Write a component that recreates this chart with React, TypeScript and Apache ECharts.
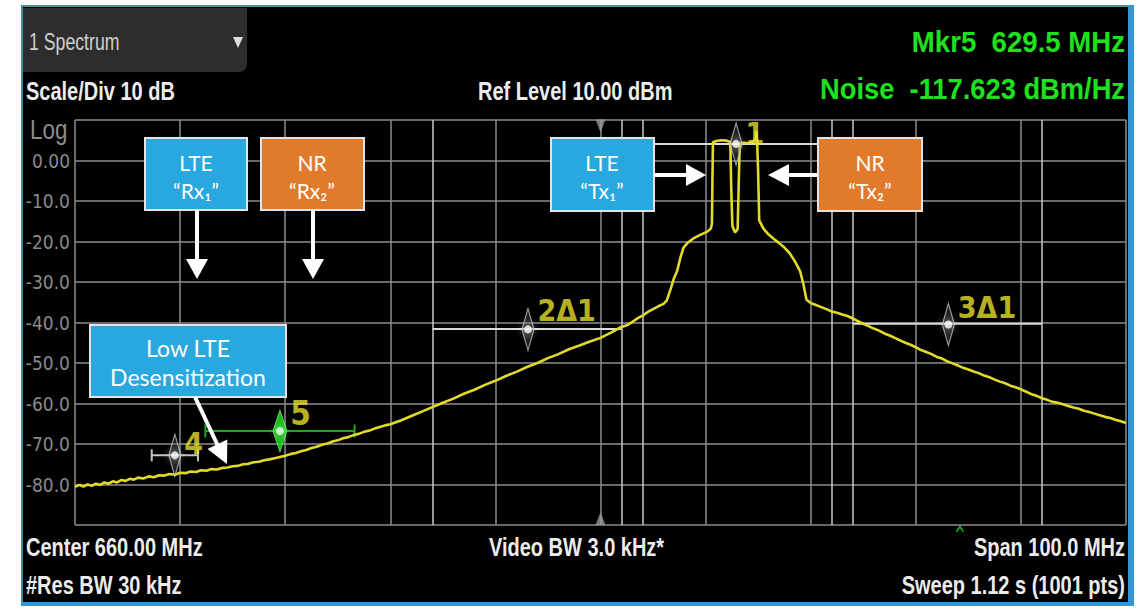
import { useEffect, useRef } from "react";
import * as echarts from "echarts";

// ---------- data ----------
// trace: [frequency MHz, level dBm]
const trace: [number, number][] = [
  [610.0, -80.6], [610.4, -80.1], [610.8, -80.5], [611.2, -80.0], [611.6, -80.3], [612.0, -79.8],
  [612.4, -80.1], [612.8, -79.5], [613.2, -79.8], [613.6, -79.2], [614.0, -79.5], [614.4, -78.9],
  [614.8, -79.1], [615.2, -78.6], [615.6, -78.8], [616.0, -78.3], [616.5, -78.5], [617.0, -78.0],
  [617.5, -78.2], [618.0, -77.7], [618.5, -77.8], [619.0, -77.4], [619.5, -77.6], [620.0, -77.1],
  [620.5, -77.2], [621.0, -76.8], [621.5, -76.9], [622.0, -76.5], [622.5, -76.6], [623.0, -76.2],
  [623.5, -76.3], [624.0, -75.9], [624.5, -75.8], [625.0, -75.5], [625.5, -75.4], [626.0, -75.0],
  [626.5, -74.9], [627.0, -74.5], [627.5, -74.4], [628.0, -74.0], [628.5, -73.8], [629.0, -73.5],
  [629.5, -73.2], [630.0, -72.9], [630.5, -72.5], [631.0, -72.2], [631.5, -71.8], [632.0, -71.5],
  [632.5, -71.0], [633.0, -70.7], [633.5, -70.2], [634.0, -69.9], [634.5, -69.4], [635.0, -69.1],
  [635.5, -68.6], [636.0, -68.3], [636.5, -67.8], [637.0, -67.5], [637.5, -67.0], [638.0, -66.7],
  [638.5, -66.2], [639.0, -65.8], [639.5, -65.4], [640.0, -65.1], [641.0, -64.2], [642.0, -63.1],
  [643.0, -62.0], [644.0, -60.9], [645.0, -59.8], [646.0, -58.8], [647.0, -57.6], [648.0, -56.6],
  [649.0, -55.4], [650.0, -54.4], [651.0, -53.2], [652.0, -52.2], [653.0, -51.0], [654.0, -50.0],
  [655.0, -48.8], [656.0, -47.8], [657.0, -46.6], [658.0, -45.7], [659.0, -44.7], [660.0, -43.8],
  [661.0, -42.5], [661.9, -41.2], [662.5, -40.7], [663.0, -39.9], [663.5, -39.0], [664.0, -38.3],
  [664.5, -37.4], [665.0, -36.7], [665.5, -36.0], [666.0, -35.4], [666.3, -34.6], [666.7, -31.5],
  [667.0, -29.0], [667.3, -27.2], [667.6, -24.0], [667.9, -21.5], [668.3, -20.3], [668.8, -19.3],
  [669.3, -18.6], [669.8, -18.0], [670.2, -17.5], [670.5, -16.8], [670.6, -15.6], [670.65, -5.0],
  [670.7, 4.5], [671.0, 4.8], [671.5, 5.0], [672.0, 4.9], [672.35, 4.6], [672.45, -8.0],
  [672.55, -16.2], [672.8, -17.8], [673.05, -16.9], [673.15, -6.0], [673.25, 4.2], [673.6, 4.4],
  [674.0, 4.3], [674.4, 4.5], [674.75, 5.2], [674.82, 7.3], [674.9, 4.9], [675.0, -3.0],
  [675.1, -14.8], [675.5, -16.8], [676.0, -18.3], [676.5, -19.4], [677.0, -20.4], [677.5, -21.5],
  [678.0, -22.9], [678.5, -24.9], [679.0, -27.4], [679.3, -30.5], [679.6, -34.4], [680.0, -35.2],
  [680.5, -35.7], [681.0, -36.2], [681.5, -36.7], [682.0, -37.3], [682.5, -37.6], [683.0, -38.0],
  [683.5, -38.4], [684.0, -39.0], [684.5, -39.7], [685.0, -40.3], [685.5, -40.9], [686.0, -41.5],
  [686.5, -42.0], [687.0, -42.7], [687.5, -43.2], [688.0, -43.8], [688.5, -44.4], [689.0, -45.0],
  [689.5, -45.5], [690.0, -46.1], [690.5, -46.8], [691.0, -47.3], [691.5, -47.8], [692.0, -48.5],
  [692.5, -48.9], [693.0, -49.6], [693.5, -50.1], [694.0, -50.6], [694.5, -51.2], [695.0, -51.6],
  [695.5, -52.1], [696.0, -52.5], [696.5, -53.1], [697.0, -53.5], [697.5, -54.1], [698.0, -54.6],
  [698.5, -55.0], [699.0, -55.6], [699.5, -56.0], [700.0, -56.5], [700.5, -57.1], [701.0, -57.7],
  [701.5, -58.1], [702.0, -58.7], [702.5, -59.1], [703.0, -59.6], [703.5, -59.8], [704.0, -60.2],
  [704.5, -60.6], [705.0, -61.0], [705.5, -61.3], [706.0, -61.8], [706.5, -62.1], [707.0, -62.5],
  [707.5, -62.9], [708.0, -63.3], [708.5, -63.6], [709.0, -64.0], [709.5, -64.4], [710.0, -64.8],
];

const freqStart = 610;
const freqStop = 710;
const freqStep = 10;
const refLevel = 10;
const bottomLevel = -90;
const levelStep = 10;
const centerFreq = 660;

const yTicks = [10, 0, -10, -20, -30, -40, -50, -60, -70, -80, -90];
const yTickLabels = ["", "0.00", "-10.0", "-20.0", "-30.0", "-40.0", "-50.0", "-60.0", "-70.0", "-80.0", ""];

// band / delta markers
const markerLabels = ["1", "2Δ1", "3Δ1", "4"];
const markerFreq = [672.9, 653.1, 693.1, 619.5];
const markerLevel = [4.1, -41.7, -40.5, -72.8];
const bandLevel = [4.1, -41.6, -40.3, -72.8];
const bandStart = [664, 644, 684, 617.3];
const bandStop = [682, 662, 702, 621.7];

// noise marker 5
const noiseLabel = "5";
const noiseFreq = 629.5;
const noiseLevel = -66.8;
const noiseBandStart = 622.4;
const noiseBandStop = 636.6;

const sweepCaretFreq = 694.2;

// ---------- styles ----------
const SANS = '"Liberation Sans", Arial, sans-serif';
const NARROW = '"Liberation Sans Narrow", "Arial Narrow", "DejaVu Sans Condensed", "Liberation Sans", sans-serif';
const BOX_FONT = 'Lato, "Open Sans", "DejaVu Sans", sans-serif';
const WHITE = "#ececec";
const GREEN = "#1fe21f";
const YELLOW = "#ebe22e";
const GRID = "#8c8c8c";
const BLUE_BOX = "#29a7df";
const ORANGE_BOX = "#e17b2b";
const labelOffsets: [number, number][] = [[0, -10], [0, -19], [0, -17], [0, -12]];

type TOpts = { align?: string; sx?: number; weight?: string; family?: string };
const txt = (text: string, x: number, y: number, size: number, color: string, o: TOpts = {}) => ({
  type: "text",
  x,
  y,
  scaleX: o.sx ?? 1,
  z: 30,
  style: {
    text,
    fill: color,
    font: `${o.weight ?? "normal"} ${size}px ${o.family ?? SANS}`,
    textAlign: o.align ?? "left",
    textVerticalAlign: "middle",
  },
});

const boxRect = (x: number, y: number, w: number, h: number, fill: string) => ({
  type: "rect",
  z: 25,
  shape: { x, y, width: w, height: h },
  style: { fill, stroke: "#e4e4e4", lineWidth: 2 },
});

const shaft = (x1: number, y1: number, x2: number, y2: number) => ({
  type: "line",
  z: 25,
  shape: { x1, y1, x2, y2 },
  style: { stroke: "#ffffff", lineWidth: 4 },
});

const head = (pts: number[][]) => ({
  type: "polygon",
  z: 25,
  shape: { points: pts },
  style: { fill: "#ffffff" },
});

function buildOption() {
  const graphic: any[] = [
    // panel
    { type: "rect", z: -20, shape: { x: 21, y: 5, width: 1113, height: 601 }, style: { fill: "#3296d4" } },
    { type: "rect", z: -19, shape: { x: 23, y: 7, width: 1105, height: 595 }, style: { fill: "#000000" } },
    { type: "rect", z: -19, shape: { x: 21, y: 5, width: 1107, height: 2 }, style: { fill: "#4d8ea3" } },
    { type: "rect", z: -19, shape: { x: 21, y: 5, width: 2, height: 597 }, style: { fill: "#3f8da5" } },
    { type: "rect", z: -18, shape: { x: 23, y: 8, width: 224, height: 64, r: [0, 0, 8, 0] }, style: { fill: "#2d2d2d" } },
    { type: "polygon", z: 30, shape: { points: [[233, 37], [243, 37], [238, 48]] }, style: { fill: "#dcdcdc" } },
    txt("1 Spectrum", 29, 42, 23, "#d0d0d0", { sx: 0.77 }),
    txt("Scale/Div 10 dB", 26, 92, 25, WHITE, { sx: 0.8, weight: "bold" }),
    txt("Ref Level 10.00 dBm", 478, 92, 25, WHITE, { sx: 0.8, weight: "bold" }),
    txt("Mkr5  629.5 MHz", 1125, 42, 30, GREEN, { align: "right", sx: 0.92, weight: "bold" }),
    txt("Noise  -117.623 dBm/Hz", 1125, 89, 30, GREEN, { align: "right", sx: 0.91, weight: "bold" }),
    txt("Log", 30, 129, 28, "#8c8c8c", { sx: 0.8 }),
    txt("Center 660.00 MHz", 26, 548, 25, WHITE, { sx: 0.8, weight: "bold" }),
    txt("#Res BW 30 kHz", 26, 586, 25, WHITE, { sx: 0.8, weight: "bold" }),
    txt("Video BW 3.0 kHz*", 489, 548, 25, WHITE, { sx: 0.8, weight: "bold" }),
    txt("Span 100.0 MHz", 1125, 548, 25, WHITE, { align: "right", sx: 0.8, weight: "bold" }),
    txt("Sweep 1.12 s (1001 pts)", 1125, 586, 25, WHITE, { align: "right", sx: 0.8, weight: "bold" }),

    // callout boxes
    boxRect(145, 138, 102, 72, BLUE_BOX),
    txt("LTE", 196, 162, 21, "#ffffff", { align: "center", family: BOX_FONT }),
    txt("“Rx₁”", 196, 190, 21, "#ffffff", { align: "center", family: BOX_FONT }),
    shaft(197, 210, 197, 262),
    head([[186, 259], [208, 259], [197, 279]]),

    boxRect(261, 138, 103, 72, ORANGE_BOX),
    txt("NR", 312, 162, 21, "#ffffff", { align: "center", family: BOX_FONT }),
    txt("“Rx₂”", 312, 190, 21, "#ffffff", { align: "center", family: BOX_FONT }),
    shaft(313, 210, 313, 262),
    head([[302, 259], [324, 259], [313, 279]]),

    boxRect(551, 138, 103, 73, BLUE_BOX),
    txt("LTE", 602, 162, 21, "#ffffff", { align: "center", family: BOX_FONT }),
    txt("“Tx₁”", 602, 190, 21, "#ffffff", { align: "center", family: BOX_FONT }),
    shaft(654, 175, 688, 175),
    head([[686, 164], [686, 186], [706, 175]]),

    boxRect(818, 138, 104, 73, ORANGE_BOX),
    txt("NR", 870, 162, 21, "#ffffff", { align: "center", family: BOX_FONT }),
    txt("“Tx₂”", 870, 190, 21, "#ffffff", { align: "center", family: BOX_FONT }),
    shaft(818, 175, 786, 175),
    head([[789, 164], [789, 186], [768, 175]]),

    boxRect(90, 325, 196, 72, BLUE_BOX),
    txt("Low LTE", 188, 348, 23, "#ffffff", { align: "center", family: BOX_FONT }),
    txt("Desensitization", 188, 377, 23, "#ffffff", { align: "center", family: BOX_FONT }),
    shaft(195, 397, 218, 446),
    head([[227.3, 439.4], [207.5, 449.0], [227, 464]]),
  ];

  const edgeFreqs = [bandStart[0], bandStop[0], bandStart[1], bandStop[1], bandStart[2], bandStop[2]];

  const bandSeries = [0, 1, 2].map((i) => ({
    type: "line",
    silent: true,
    z: 3,
    showSymbol: false,
    data: [[bandStart[i], bandLevel[i]], [bandStop[i], bandLevel[i]]],
    lineStyle: { color: "#dadada", width: 2 },
  }));

  return {
    animation: false,
    backgroundColor: "transparent",
    grid: { left: 75, top: 120, width: 1051, height: 405, containLabel: false },
    xAxis: {
      type: "value",
      min: freqStart,
      max: freqStop,
      interval: freqStep,
      axisLine: { show: false },
      axisTick: { show: false },
      axisLabel: { show: false },
      splitLine: { show: true, lineStyle: { color: GRID, width: 1.5 } },
    },
    yAxis: {
      type: "value",
      min: bottomLevel,
      max: refLevel,
      interval: levelStep,
      axisLine: { show: false },
      axisTick: { show: false },
      axisLabel: {
        show: true,
        margin: 5,
        color: "#8a8a8a",
        fontSize: 19,
        fontFamily: NARROW,
        formatter: (v: number) => {
          const i = yTicks.indexOf(v);
          return i >= 0 ? yTickLabels[i] : "";
        },
      },
      splitLine: { show: true, lineStyle: { color: GRID, width: 1.5 } },
    },
    graphic,
    series: [
      {
        type: "line",
        silent: true,
        z: 1,
        showSymbol: false,
        data: [[freqStart, bottomLevel]],
        lineStyle: { width: 0 },
        markLine: {
          silent: true,
          symbol: ["none", "none"],
          label: { show: false },
          lineStyle: { color: "#c8c8c8", width: 1.5, type: "solid" },
          data: edgeFreqs.map((f) => ({ xAxis: f })),
        },
      },
      ...bandSeries,
      {
        type: "line",
        silent: true,
        z: 3,
        showSymbol: true,
        symbol: "rect",
        symbolSize: [2, 12],
        data: [[bandStart[3], bandLevel[3]], [bandStop[3], bandLevel[3]]],
        itemStyle: { color: "#c4c4c4" },
        lineStyle: { color: "#c4c4c4", width: 2 },
      },
      {
        type: "line",
        silent: true,
        z: 3,
        showSymbol: true,
        symbol: "rect",
        symbolSize: [2, 13],
        data: [[noiseBandStart, noiseLevel], [noiseBandStop, noiseLevel]],
        itemStyle: { color: "#1ca81c" },
        lineStyle: { color: "#1ca81c", width: 2 },
      },
      {
        type: "line",
        silent: true,
        z: 5,
        showSymbol: false,
        data: trace,
        lineStyle: { color: "#e2da2a", width: 2.6 },
      },
      {
        type: "scatter",
        silent: true,
        z: 6,
        symbol: "diamond",
        symbolSize: [12, 42],
        itemStyle: { color: "rgba(90,90,90,0.45)", borderColor: "#c4c4c4", borderWidth: 1.5 },
        label: {
          show: true,
          position: "right",
          distance: 3,
          color: YELLOW,
          fontSize: 30,
          fontWeight: "bold",
          fontFamily: NARROW,
          formatter: (p: any) => markerLabels[p.dataIndex],
        },
        data: markerFreq.map((f, i) => ({ value: [f, markerLevel[i]], label: { offset: labelOffsets[i] } })),
      },
      {
        type: "scatter",
        silent: true,
        z: 7,
        symbol: "circle",
        symbolSize: 8,
        itemStyle: { color: "#ffffff", shadowBlur: 10, shadowColor: "#ffffff" },
        data: markerFreq.map((f, i) => [f, markerLevel[i]]),
      },
      {
        type: "scatter",
        silent: true,
        z: 6,
        symbol: "diamond",
        symbolSize: [14, 42],
        itemStyle: { color: "#22e622", borderColor: "#7cff7c", borderWidth: 1 },
        label: {
          show: true,
          position: "right",
          distance: 3,
          offset: [0, -18],
          color: YELLOW,
          fontSize: 33,
          fontWeight: "bold",
          fontFamily: NARROW,
          formatter: () => noiseLabel,
        },
        data: [[noiseFreq, noiseLevel]],
      },
      {
        type: "scatter",
        silent: true,
        z: 7,
        symbol: "circle",
        symbolSize: 8,
        itemStyle: { color: "#eaffea", shadowBlur: 10, shadowColor: "#aaffaa" },
        data: [[noiseFreq, noiseLevel]],
      },
      {
        type: "scatter",
        silent: true,
        z: 6,
        symbol: "triangle",
        symbolSize: [10, 13],
        symbolRotate: 180,
        itemStyle: { color: "#9a9a9a" },
        data: [[centerFreq, refLevel - 1.5]],
      },
      {
        type: "scatter",
        silent: true,
        z: 6,
        symbol: "triangle",
        symbolSize: [10, 13],
        itemStyle: { color: "#9a9a9a" },
        data: [[centerFreq, bottomLevel + 1.6]],
      },
      {
        type: "scatter",
        silent: true,
        z: 6,
        clip: false,
        symbol: "path://M0,10 L5,0 L10,10 L7.5,10 L5,5 L2.5,10 Z",
        symbolSize: [9, 7],
        itemStyle: { color: "#22cc22" },
        data: [[sweepCaretFreq, bottomLevel - 0.8]],
      },
    ],
  };
}

export default function App() {
  const ref = useRef<HTMLDivElement>(null);
  useEffect(() => {
    if (!ref.current) return;
    const chart = echarts.init(ref.current, null, { renderer: "svg" });
    chart.setOption(buildOption() as any);
    return () => chart.dispose();
  }, []);
  return (
    <div
      ref={ref}
      style={{ position: "fixed", left: 0, top: 0, width: 1148, height: 610, background: "#ffffff" }}
    />
  );
}
